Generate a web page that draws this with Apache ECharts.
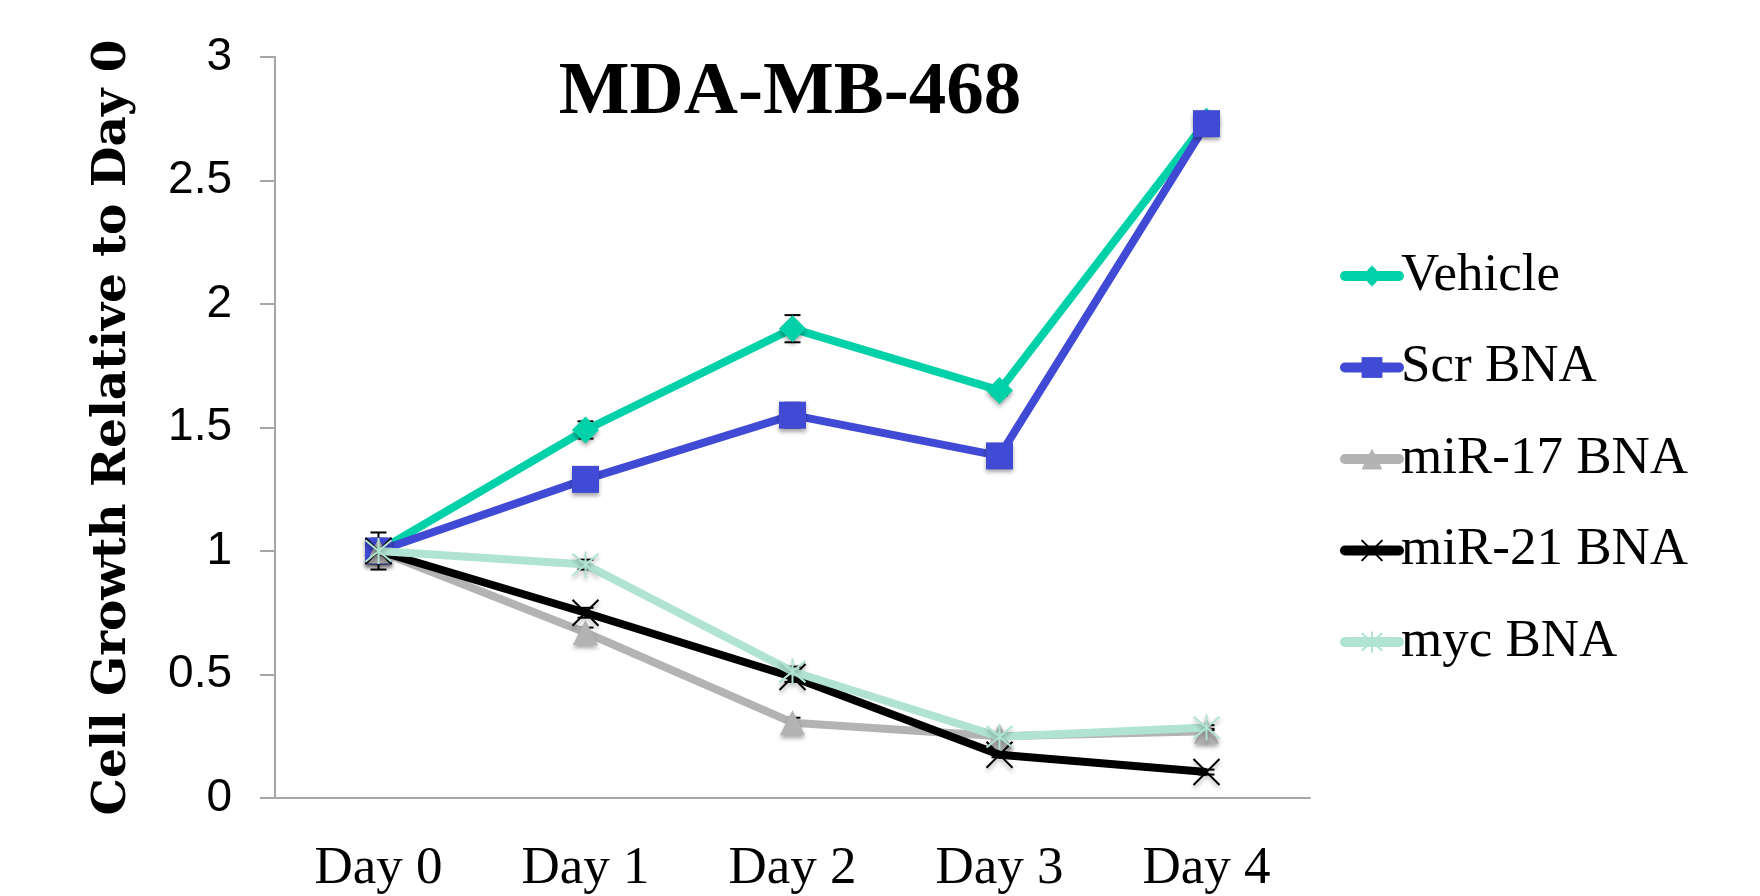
<!DOCTYPE html>
<html>
<head>
<meta charset="utf-8">
<script src="https://cdn.jsdelivr.net/npm/echarts@6/dist/echarts.min.js"></script>
<style>
html,body{margin:0;padding:0;background:#fff;}
#chart{width:1760px;height:896px;}
</style>
</head>
<body>
<div id="chart"></div>
<script>
const categories = ['Day 0', 'Day 1', 'Day 2', 'Day 3', 'Day 4'];
const seriesNames = ['Vehicle', 'Scr BNA', 'miR-17 BNA', 'miR-21 BNA', 'myc BNA'];
const vehicle = [1.00, 1.49, 1.90, 1.65, 2.74];
const scrBNA = [1.00, 1.29, 1.55, 1.385, 2.73];
const mir17BNA = [1.00, 0.67, 0.305, 0.25, 0.27];
const mir21BNA = [1.00, 0.75, 0.49, 0.175, 0.105];
const mycBNA = [1.00, 0.945, 0.512, 0.248, 0.285];
const vehicleErr = [0.075, 0.035, 0.055, 0.02, 0.03];
const scrErr = [0.05, 0.02, 0.05, 0.02, 0.02];
const mir17Err = [0.03, 0.02, 0.02, 0.01, 0.01];
const mir21Err = [0.03, 0.02, 0.02, 0.01, 0.01];
const mycErr = [0.03, 0.02, 0.02, 0.01, 0.01];

const values = [vehicle, scrBNA, mir17BNA, mir21BNA, mycBNA];
const errors = [vehicleErr, scrErr, mir17Err, mir21Err, mycErr];
const colors = ['#00D1A9', '#404AD4', '#B3B3B3', '#000000', '#B0E3D2'];
const symbols = [
  'diamond',
  'rect',
  'triangle',
  'path://M0,0L10,10M10,0L0,10',
  'path://M0,0L10,10M10,0L0,10M5,-1L5,11'
];
const symbolSizes = [27, 27, 25, 26, 26];

const chart = echarts.init(document.getElementById('chart'));

const serif = '"Liberation Serif", "DejaVu Serif", serif';
const sans = '"Liberation Sans", Arial, sans-serif';

const lineSeries = seriesNames.map((name, i) => {
  const isStroke = i >= 3;
  return {
    name: name,
    type: 'line',
    data: values[i],
    symbol: symbols[i],
    symbolSize: symbolSizes[i],
    showAllSymbol: true,
    z: 3 + i,
    lineStyle: { color: colors[i], width: 8 },
    itemStyle: isStroke ? {
      color: colors[i],
      borderColor: colors[i],
      borderWidth: 2,
      shadowBlur: 4, shadowColor: 'rgba(0,0,0,0.35)', shadowOffsetY: 3
    } : {
      color: colors[i],
      borderWidth: 0,
      shadowBlur: 4, shadowColor: 'rgba(0,0,0,0.35)', shadowOffsetY: 3
    },
    emphasis: { disabled: true },
    animation: false
  };
});

const errorSeries = seriesNames.map((name, i) => ({
  type: 'custom',
  z: 2,
  silent: true,
  animation: false,
  data: values[i].map((v, j) => [j, v, errors[i][j]]),
  renderItem: function (params, api) {
    const x = api.value(0), y = api.value(1), e = api.value(2);
    const top = api.coord([x, y + e]);
    const bot = api.coord([x, y - e]);
    const hw = 8;
    return {
      type: 'group',
      children: [
        { type: 'line', shape: { x1: top[0], y1: top[1], x2: bot[0], y2: bot[1] }, style: { stroke: '#000', lineWidth: 2 } },
        { type: 'line', shape: { x1: top[0] - hw, y1: top[1], x2: top[0] + hw, y2: top[1] }, style: { stroke: '#000', lineWidth: 2 } },
        { type: 'line', shape: { x1: bot[0] - hw, y1: bot[1], x2: bot[0] + hw, y2: bot[1] }, style: { stroke: '#000', lineWidth: 2 } }
      ]
    };
  }
}));

chart.setOption({
  backgroundColor: '#ffffff',
  animation: false,
  title: {
    text: 'MDA-MB-468',
    left: 785,
    textAlign: 'center',
    top: 51,
    textStyle: { fontFamily: serif, fontWeight: 'bold', fontSize: 75, color: '#000' }
  },
  legend: {
    orient: 'vertical',
    left: 1335,
    top: 243,
    itemWidth: 54,
    itemHeight: 26,
    itemGap: 35.5,
    data: seriesNames,
    lineStyle: { width: 10, cap: 'round' },
    textStyle: { fontFamily: serif, fontSize: 53, color: '#000', lineHeight: 56, padding: [0, 0, 0, -3] }
  },
  grid: { left: 275, right: 450, top: 57, bottom: 96, containLabel: false },
  xAxis: {
    type: 'category',
    data: categories,
    boundaryGap: true,
    axisLine: { show: true, lineStyle: { color: '#A6A6A6', width: 2 } },
    axisTick: { show: false },
    axisLabel: { fontFamily: serif, fontSize: 53, color: '#000', margin: 45 },
    splitLine: { show: false }
  },
  yAxis: {
    type: 'value',
    min: 0, max: 3, interval: 0.5,
    name: 'Cell Growth Relative to Day 0',
    nameLocation: 'middle',
    nameGap: 139,
    nameTextStyle: { fontFamily: '"DejaVu Serif", serif', fontWeight: 'bold', fontSize: 47, color: '#000' },
    axisLine: { show: true, lineStyle: { color: '#A6A6A6', width: 2 } },
    axisTick: { show: true, inside: false, length: 15, lineStyle: { color: '#A6A6A6', width: 2 } },
    axisLabel: { fontFamily: sans, fontSize: 46, color: '#000', margin: 43 },
    splitLine: { show: false }
  },
  series: errorSeries.concat(lineSeries)
});
</script>
</body>
</html>
